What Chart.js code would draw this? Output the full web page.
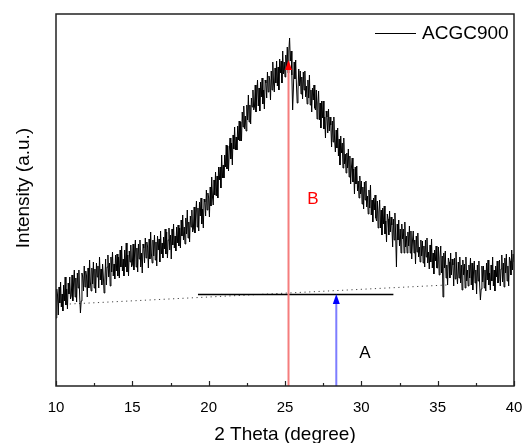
<!DOCTYPE html>
<html>
<head>
<meta charset="utf-8">
<script src="https://cdn.jsdelivr.net/npm/chart.js@4.4.1/dist/chart.umd.min.js"></script>
<style>
  html, body { margin: 0; padding: 0; background: #fff; }
  canvas { display: block; }
</style>
</head>
<body>
<canvas id="xrdChart" width="525" height="443"></canvas>
<script>
// scan starts at 10 deg, one reading every 0.05 deg (one row = 1 deg)
const scanStart = 10;
const scanStep = 0.05;
const intensity = [
  68, 97, 91, 71, 99, 83, 104, 79, 92, 75, 101, 85, 109, 81, 97, 77, 103, 92, 109, 87,
  90, 111, 85, 102, 116, 89, 108, 84, 113, 98, 116, 90, 73, 85, 113, 109, 95, 120, 99, 115,
  110, 89, 118, 98, 126, 104, 95, 118, 102, 124, 98, 117, 93, 123, 109, 120, 98, 129, 106, 117,
  101, 122, 110, 93, 105, 127, 101, 119, 131, 109, 123, 100, 129, 114, 134, 110, 122, 107, 131, 115,
  132, 110, 129, 108, 136, 119, 140, 115, 127, 110, 136, 119, 143, 114, 131, 110, 135, 124, 141, 119,
  121, 142, 116, 133, 146, 119, 138, 114, 142, 127, 146, 119, 133, 113, 142, 138, 123, 148, 128, 144,
  139, 118, 147, 127, 154, 132, 123, 146, 130, 151, 126, 144, 120, 150, 136, 147, 124, 155, 132, 143,
  128, 149, 137, 157, 132, 154, 128, 146, 158, 136, 151, 127, 157, 141, 162, 138, 150, 135, 159, 143,
  161, 140, 158, 138, 166, 150, 171, 146, 159, 142, 168, 152, 176, 148, 164, 144, 170, 159, 176, 154,
  157, 179, 153, 171, 185, 159, 178, 155, 184, 170, 188, 162, 177, 158, 187, 184, 170, 196, 176, 193,
  188, 169, 199, 180, 209, 189, 181, 206, 191, 214, 190, 210, 188, 219, 206, 219, 198, 231, 208, 221,
  208, 231, 219, 241, 217, 240, 215, 235, 248, 227, 243, 221, 251, 237, 259, 236, 249, 236, 260, 246,
  265, 245, 264, 245, 274, 259, 280, 257, 270, 255, 281, 266, 291, 264, 281, 262, 288, 279, 296, 276,
  279, 301, 274, 292, 306, 280, 298, 275, 304, 289, 308, 282, 296, 277, 306, 303, 288, 314, 294, 310,
  306, 286, 315, 296, 324, 303, 294, 318, 303, 325, 300, 319, 296, 327, 313, 325, 303, 335, 312, 324,
  309, 331, 318, 339, 313, 335, 348, 325, 335, 311, 276, 297, 324, 307, 326, 301, 283, 295, 317, 300,
  315, 292, 309, 287, 314, 296, 315, 289, 300, 282, 306, 288, 311, 281, 296, 274, 298, 286, 301, 278,
  276, 296, 267, 283, 295, 266, 283, 258, 285, 268, 285, 257, 269, 248, 275, 269, 253, 277, 255, 269,
  261, 239, 265, 244, 269, 246, 234, 256, 238, 258, 230, 247, 221, 250, 233, 243, 218, 248, 222, 232,
  213, 233, 218, 237, 209, 230, 202, 218, 228, 204, 217, 192, 219, 202, 220, 195, 205, 188, 210, 192,
  205, 182, 199, 177, 204, 186, 205, 179, 190, 172, 196, 178, 201, 171, 186, 164, 188, 176, 191, 168,
  165, 185, 158, 174, 186, 158, 176, 151, 178, 162, 180, 152, 165, 144, 172, 167, 151, 175, 154, 169,
  161, 139, 167, 146, 173, 150, 119, 162, 146, 166, 140, 157, 133, 162, 147, 157, 133, 164, 139, 150,
  133, 154, 140, 160, 133, 155, 127, 145, 155, 133, 146, 122, 150, 134, 153, 129, 139, 124, 146, 130,
  145, 123, 140, 119, 146, 129, 148, 123, 134, 117, 141, 124, 147, 118, 133, 112, 136, 125, 140, 118,
  118, 139, 111, 128, 140, 113, 130, 89, 133, 118, 135, 108, 121, 101, 128, 124, 108, 133, 111, 127,
  121, 100, 128, 107, 134, 112, 102, 124, 108, 129, 103, 121, 96, 126, 111, 122, 98, 129, 105, 116,
  100, 121, 108, 128, 101, 123, 96, 114, 125, 103, 116, 92, 121, 105, 125, 101, 86, 97, 120, 104,
  120, 98, 116, 95, 123, 106, 126, 101, 113, 96, 121, 105, 129, 100, 116, 95, 120, 109, 125, 103,
  105, 126, 100, 117, 131, 104, 123, 99, 128, 113, 132, 105, 120, 100, 129, 125, 111, 136, 116, 132,
  124
];

// guide lines
const baselineX = [10.9, 35.6];
const baselineY = [82, 101];
const levelX = [19.3, 32.1];
const levelY = [91.5, 91.5];
const peakX = 25.23;       // B arrow
const peakTop = 326;
const baseX = 28.36;       // A arrow
const baseTop = 92;

const xTicks = [10, 15, 20, 25, 30, 35, 40];
const seriesName = 'ACGC900';

const FONT = 'Arial, "Liberation Sans", sans-serif';

const curve = intensity.map((v, i) => ({ x: scanStart + i * scanStep, y: v }));

function drawArrowHead(ctx, x, y, color) {
    ctx.save();
    ctx.fillStyle = color;
    ctx.beginPath();
    ctx.moveTo(x, y);
    ctx.lineTo(x - 3.5, y + 10);
    ctx.lineTo(x + 3.5, y + 10);
    ctx.closePath();
    ctx.fill();
    ctx.restore();
}

const framePlugin = {
    id: 'frame',
    afterDatasetsDraw(chart) {
        const { ctx, chartArea: a, scales: { x, y } } = chart;

        drawArrowHead(ctx, x.getPixelForValue(peakX), y.getPixelForValue(peakTop), '#ff0000');
        drawArrowHead(ctx, x.getPixelForValue(baseX), y.getPixelForValue(baseTop), '#0000ff');

        ctx.save();
        // box
        ctx.strokeStyle = '#222';
        ctx.lineWidth = 1.5;
        ctx.strokeRect(a.left, a.top, a.right - a.left, a.bottom - a.top);

        // inward ticks on the bottom axis
        ctx.lineWidth = 1.2;
        for (let v = 10; v <= 40; v += 2.5) {
            const px = Math.round(x.getPixelForValue(v)) + 0.5;
            const len = v % 5 === 0 ? 5 : 3;
            ctx.beginPath();
            ctx.moveTo(px, a.bottom);
            ctx.lineTo(px, a.bottom - len);
            ctx.stroke();
        }

        // labels A and B
        ctx.font = '17px ' + FONT;
        ctx.textAlign = 'center';
        ctx.textBaseline = 'middle';
        ctx.fillStyle = '#ff0000';
        ctx.fillText('B', 313, 199);
        ctx.fillStyle = '#000';
        ctx.fillText('A', 365, 353);

        // legend
        ctx.strokeStyle = '#000';
        ctx.lineWidth = 1;
        ctx.beginPath();
        ctx.moveTo(375, 33.5);
        ctx.lineTo(416, 33.5);
        ctx.stroke();
        ctx.font = '19px ' + FONT;
        ctx.textAlign = 'left';
        ctx.fillText(seriesName, 422, 34);

        // axis titles
        ctx.textAlign = 'center';
        ctx.fillText('2 Theta (degree)', (a.left + a.right) / 2, 435);
        ctx.translate(24, 188);
        ctx.rotate(-Math.PI / 2);
        ctx.fillText('Intensity (a.u.)', 0, 0);
        ctx.restore();
    }
};

const ctx = document.getElementById('xrdChart').getContext('2d');
new Chart(ctx, {
    type: 'line',
    data: {
        datasets: [
            {
                data: [{ x: peakX, y: 0 }, { x: peakX, y: peakTop - 8 }],
                borderColor: 'rgb(245,125,125)',
                borderWidth: 2,
                pointRadius: 0,
            },
            {
                data: [{ x: baseX, y: 0 }, { x: baseX, y: baseTop - 8 }],
                borderColor: 'rgb(125,125,255)',
                borderWidth: 2,
                pointRadius: 0,
            },
            {
                label: seriesName,
                data: curve,
                borderColor: '#000',
                borderWidth: 1,
                pointRadius: 0,
                tension: 0,
            },
            {
                data: levelX.map((v, i) => ({ x: v, y: levelY[i] })),
                borderColor: '#000',
                borderWidth: 1.3,
                pointRadius: 0,
            },
            {
                data: baselineX.map((v, i) => ({ x: v, y: baselineY[i] })),
                borderColor: '#444',
                borderWidth: 1,
                borderDash: [1.2, 3.5],
                pointRadius: 0,
            },
        ],
    },
    options: {
        responsive: false,
        animation: false,
        layout: { padding: { top: 14, right: 11, left: 0, bottom: 0 } },
        plugins: { legend: { display: false }, tooltip: { enabled: false } },
        scales: {
            x: {
                type: 'linear',
                min: 10,
                max: 40,
                afterBuildTicks: (s) => { s.ticks = xTicks.map(v => ({ value: v })); },
                ticks: { color: '#000', font: { family: FONT, size: 15 }, padding: 13, maxRotation: 0 },
                grid: { display: false, drawTicks: false },
                border: { display: false },
                afterFit: (s) => { s.height = 57; s.paddingLeft = 0; s.paddingRight = 0; },
            },
            y: {
                min: 0,
                max: 372,
                ticks: { display: false },
                grid: { display: false, drawTicks: false },
                border: { display: false },
                afterFit: (s) => { s.width = 56; },
            },
        },
    },
    plugins: [framePlugin],
});
</script>
</body>
</html>
